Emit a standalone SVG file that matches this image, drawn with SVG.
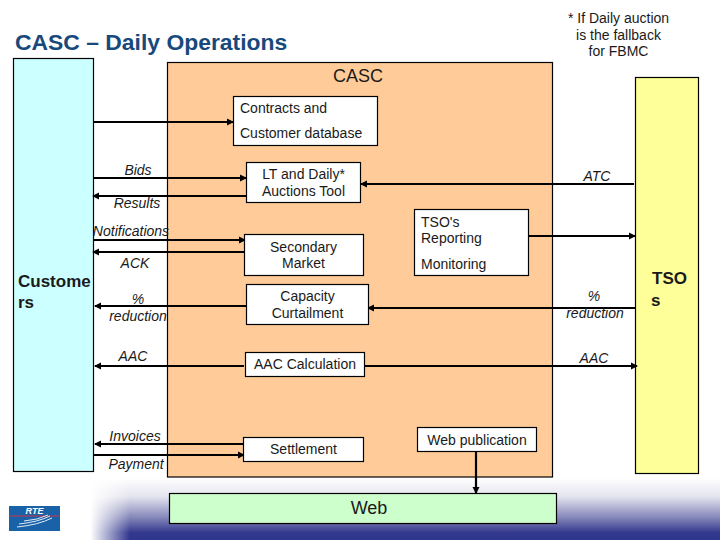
<svg xmlns="http://www.w3.org/2000/svg" width="720" height="540" viewBox="0 0 720 540">
<style>
text{font-family:"Liberation Sans",Arial,sans-serif;fill:#1a1a1a}
.b{stroke:#000;stroke-width:1.2}
.w{fill:#fff}
.t{font-size:14px;text-anchor:middle}
.l{font-size:14px}
.i{font-size:14px;font-style:italic;text-anchor:middle}
.h{font-size:17px;font-weight:bold}
.c{stroke:#000;stroke-width:2.200;fill:none;marker-end:url(#a)}
</style>
<defs>
<marker id="a" markerUnits="userSpaceOnUse" markerWidth="8" markerHeight="8" refX="6" refY="4" orient="auto"><path d="M0 0.500L7 4L0 7.500z" fill="#000"/></marker>
<linearGradient id="v" x1="0" y1="0" x2="0" y2="1"><stop offset="0" stop-color="#fff"/><stop offset=".3" stop-color="#e4e4ee"/><stop offset=".62" stop-color="#8a8cbc"/><stop offset=".88" stop-color="#34398f"/><stop offset="1" stop-color="#2f358c"/></linearGradient>
<linearGradient id="f" x1="0" y1="0" x2="1" y2="0"><stop offset="0" stop-color="#fff"/><stop offset=".12" stop-color="#fff"/><stop offset="1" stop-color="#fff" stop-opacity="0"/></linearGradient>
</defs>
<rect width="720" height="540" fill="#fff"/>
<rect x="90" y="478" width="630" height="62" fill="url(#v)"/>
<rect x="85" y="478" width="45" height="62" fill="url(#f)"/>
<text x="15" y="50" font-size="22.900" font-weight="bold" style="fill:#17497c">CASC – Daily Operations</text>
<g id="note"><text class="t" x="618.500" y="23">* If Daily auction</text><text class="t" x="618.500" y="40">is the  fallback</text><text class="t" x="618.500" y="56">for FBMC</text></g>

<g id="customers"><rect class="b" x="13.500" y="58.500" width="80" height="413" fill="#ccffff"/><text class="h" x="18" y="286.500">Custome</text><text class="h" x="18" y="308">rs</text></g>
<g id="casc"><rect class="b" x="167.500" y="62.500" width="385" height="414.500" fill="#ffcc99"/><text x="358" y="82" font-size="18px" text-anchor="middle">CASC</text></g>
<g id="tsos"><rect class="b" x="635.500" y="77.500" width="63" height="396" fill="#ffff99"/><text class="h" x="652" y="284">TSO</text><text class="h" x="651" y="306">s</text></g>

<g id="connectors">
<path class="c" d="M94 122H233"/>
<path class="c" d="M94 178H246"/>
<path class="c" d="M246 196H93"/>
<path class="c" d="M94 240H245"/>
<path class="c" d="M244 252H93"/>
<path class="c" d="M248 306H95"/>
<path class="c" d="M244 366H95"/>
<path class="c" d="M243 444H95"/>
<path class="c" d="M94 455H244"/>
<path class="c" d="M634 184H361"/>
<path class="c" d="M528 236H635"/>
<path class="c" d="M635 308H368"/>
<path class="c" d="M365 366H637"/>
<path class="c" d="M476 452V493"/>
</g>

<g id="contracts"><rect class="b w" x="233.500" y="96.500" width="144" height="49"/><text class="l" x="240" y="113">Contracts and</text><text class="l" x="240" y="138">Customer database</text></g>
<g id="auctions"><rect class="b w" x="246.500" y="162.500" width="114" height="40"/><text class="t" x="303.500" y="179">LT and Daily*</text><text class="t" x="303.500" y="196">Auctions Tool</text></g>
<g id="secondary"><rect class="b w" x="244.500" y="234.500" width="119" height="41"/><text class="t" x="303.500" y="252">Secondary</text><text class="t" x="303.500" y="268">Market</text></g>
<g id="capacity"><rect class="b w" x="246.500" y="284.500" width="122" height="40"/><text class="t" x="307.500" y="301">Capacity</text><text class="t" x="307.500" y="318">Curtailment</text></g>
<g id="aac"><rect class="b w" x="245.500" y="352.500" width="119" height="24"/><text class="t" x="305" y="369">AAC Calculation</text></g>
<g id="settlement"><rect class="b w" x="243.500" y="437.500" width="120" height="24"/><text class="t" x="303.500" y="454">Settlement</text></g>
<g id="reporting"><rect class="b w" x="414.500" y="209.500" width="114" height="66"/><text class="l" x="421" y="227">TSO's</text><text class="l" x="421" y="243">Reporting</text><text class="l" x="421" y="269">Monitoring</text></g>
<g id="webpub"><rect class="b w" x="417.500" y="427.500" width="119" height="24"/><text class="t" x="477" y="445">Web publication</text></g>
<g id="web"><rect class="b" x="169.500" y="493.500" width="387" height="30" fill="#ccffcc"/><text x="369" y="514" font-size="18px" text-anchor="middle">Web</text></g>

<g id="labels">
<text class="i" x="138" y="175">Bids</text>
<text class="i" x="137" y="208">Results</text>
<text class="i" x="131" y="236">Notifications</text>
<text class="i" x="135" y="268">ACK</text>
<text class="i" x="138" y="304">%</text>
<text class="i" x="138" y="321">reduction</text>
<text class="i" x="133" y="361">AAC</text>
<text class="i" x="135" y="441">Invoices</text>
<text class="i" x="136" y="469">Payment</text>
<text class="i" x="597" y="181">ATC</text>
<text class="i" x="594" y="301">%</text>
<text class="i" x="595" y="318">reduction</text>
<text class="i" x="594" y="363">AAC</text>
</g>
<g id="logo"><rect x="9" y="506" width="51" height="25" fill="#1a62a8"/><path d="M9 516H60" stroke="#c8324a" stroke-width="1"/><path d="M17 527Q38 525 52 518M19 524Q38 522 50 516M24 521Q38 520 48 515" stroke="#dfeaf6" stroke-width="1" fill="none"/><text x="34.500" y="514" font-size="9px" font-weight="bold" font-style="italic" text-anchor="middle" style="fill:#fff">RTE</text></g>
</svg>
